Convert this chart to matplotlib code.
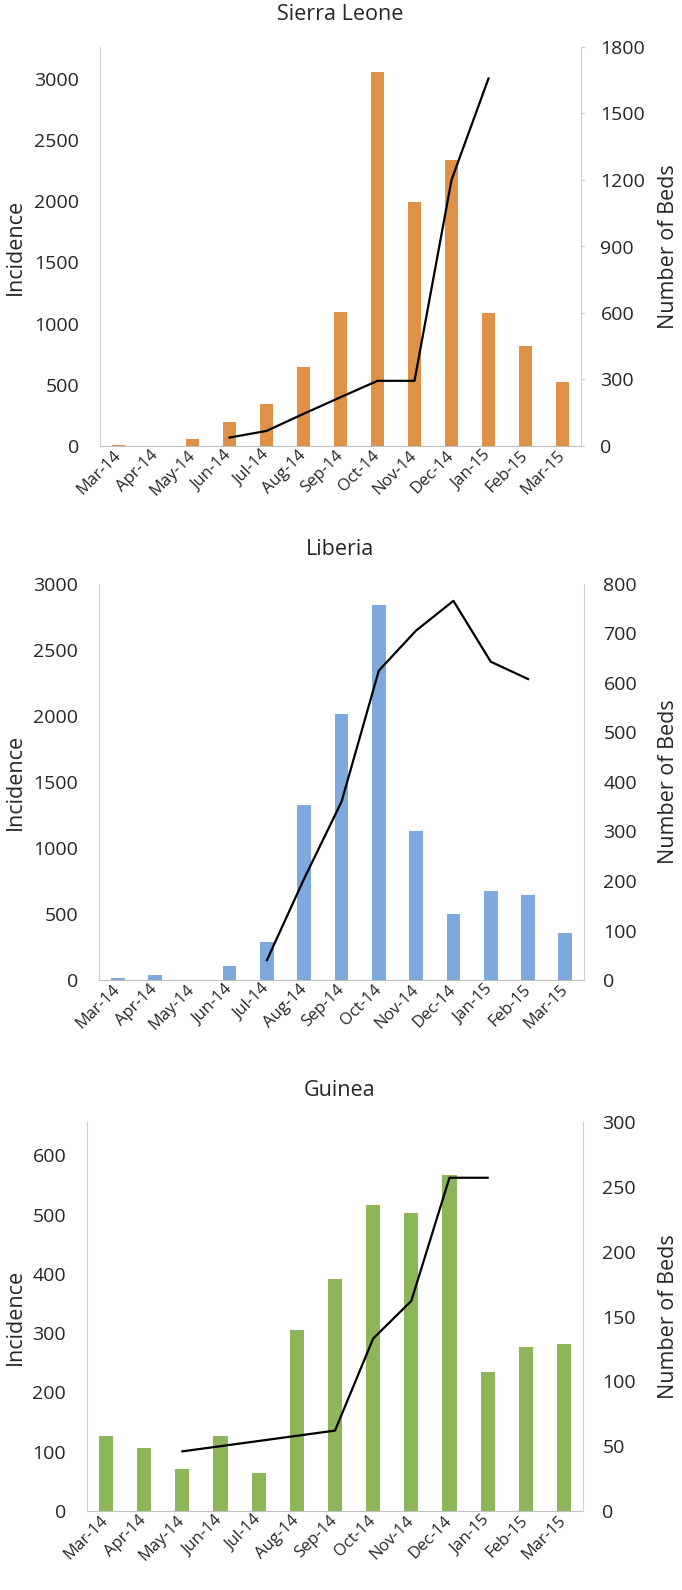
import numpy as np
import matplotlib
matplotlib.use("Agg")
import matplotlib.pyplot as plt

plt.rcParams['font.family'] = ['Open Sans', 'DejaVu Sans']

months = ['Mar-14', 'Apr-14', 'May-14', 'Jun-14', 'Jul-14', 'Aug-14', 'Sep-14',
          'Oct-14', 'Nov-14', 'Dec-14', 'Jan-15', 'Feb-15', 'Mar-15']

nan = np.nan
sl_cases = [8, 2, 55, 196, 341, 649, 1095, 3055, 1991, 2340, 1085, 818, 526]
sl_beds = [nan, nan, nan, 38, 68, 145, 220, 294, 294, 1200, 1658, nan, nan]

lib_cases = [15, 35, 0, 105, 290, 1322, 2013, 2841, 1127, 501, 671, 646, 354]
lib_beds = [nan, nan, nan, nan, 40, 205, 360, 625, 706, 766, 643, 608, nan]

gui_cases = [127, 107, 71, 127, 64, 305, 391, 516, 502, 566, 235, 276, 281]
gui_beds = [nan, nan, 46, 50, 54, 58, 62, 133, 162, 257, 257, nan, nan]

W, H = 682, 1590
fig = plt.figure(figsize=(W / 100, H / 100), dpi=100)

TXT = '#262626'
SPINE = '#D0D0D0'


def panel(rect, title, title_y, cases, beds, color, ymax1, yticks1, ymax2, yticks2,
          right_ticks):
    left, top, right, bottom = rect
    ax = fig.add_axes([left / W, 1 - bottom / H, (right - left) / W, (bottom - top) / H])
    x = np.arange(len(months))
    ax.bar(x, cases, width=0.37, color=color, zorder=2)
    ax.set_xlim(-0.5, len(months) - 0.5)
    ax.set_ylim(0, ymax1)
    ax.set_yticks(yticks1)
    ax.set_xticks(x)
    ax.set_xticklabels(months, rotation=45, ha='right', va='center',
                       rotation_mode='anchor', fontsize=12, color=TXT)
    ax.tick_params(axis='x', length=0, pad=5)
    ax.tick_params(axis='y', length=0, pad=15, labelsize=14, labelcolor=TXT)
    for s in ['top', 'right']:
        ax.spines[s].set_visible(False)
    ax.spines['left'].set_color(SPINE)
    ax.spines['bottom'].set_color('#BFBFBF')

    ax2 = ax.twinx()
    ax2.plot(x, beds, color='black', lw=1.6, zorder=3)
    ax2.set_ylim(0, ymax2)
    ax2.set_yticks(yticks2)
    for s in ['top', 'left', 'bottom']:
        ax2.spines[s].set_visible(False)
    ax2.spines['right'].set_color(SPINE)
    if right_ticks:
        ax2.tick_params(axis='y', length=3, width=1, color=SPINE, pad=11)
    else:
        ax2.tick_params(axis='y', length=0, pad=14)
    ax2.tick_params(axis='y', labelsize=14, labelcolor=TXT)

    ymid = 1 - (top + bottom) / 2 / H
    fig.text(15 / W, ymid, 'Incidence', rotation=90, ha='center', va='center',
             fontsize=15.5, color=TXT)
    fig.text(669 / W, ymid, 'Number of Beds', rotation=90, ha='center', va='center',
             fontsize=15.5, color=TXT)
    fig.text(340 / W, 1 - title_y / H, title, ha='center', va='center',
             fontsize=15.5, color=TXT)
    return ax, ax2


panel((100, 47, 581, 446), 'Sierra Leone', 14, sl_cases, sl_beds, '#DE9147',
      3260, [0, 500, 1000, 1500, 2000, 2500, 3000],
      1800, [0, 300, 600, 900, 1200, 1500, 1800], True)

panel((99, 584, 584, 980), 'Liberia', 550, lib_cases, lib_beds, '#7DA9DC',
      3000, [0, 500, 1000, 1500, 2000, 2500, 3000],
      800, [0, 100, 200, 300, 400, 500, 600, 700, 800], False)

panel((87, 1122, 583, 1511), 'Guinea', 1090, gui_cases, gui_beds, '#8DB65B',
      656, [0, 100, 200, 300, 400, 500, 600],
      300, [0, 50, 100, 150, 200, 250, 300], False)

fig.savefig('out.png', dpi=100, facecolor='white')
